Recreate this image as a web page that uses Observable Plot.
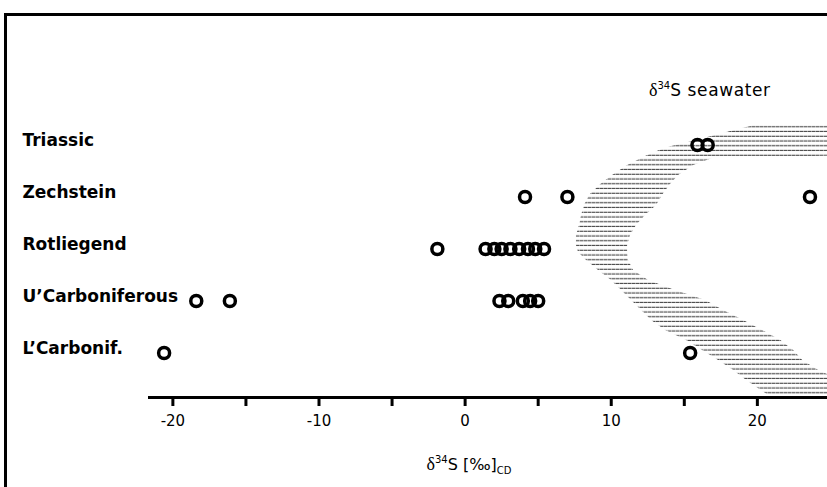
<!DOCTYPE html>
<html>
<head>
<meta charset="utf-8">
<script src="https://cdn.jsdelivr.net/npm/d3@7"></script>
<script src="https://cdn.jsdelivr.net/npm/@observablehq/plot@0.6"></script>
<style>
  html, body { margin: 0; padding: 0; background: #fff; }
  #wrap { position: relative; width: 827px; height: 487px; overflow: hidden; }
  #wrap svg { position: absolute; left: 0; top: 0; }
  #border { position: absolute; left: 4px; top: 13px; right: -5px; bottom: -5px;
            border-top: 3px solid #000; border-left: 3px solid #000; }
</style>
</head>
<body>
<div id="wrap"><div id="border"></div></div>
<script>
// Stratigraphic units, bottom (oldest) to top (youngest)
const periods = ["L’Carbonif.", "U’Carboniferous", "Rotliegend", "Zechstein", "Triassic"];

// δ34S of sulfate samples (‰ CDT) per unit
const lCarbonif = [-20.6, 15.4];
const uCarboniferous = [-18.4, -16.1, 2.35, 2.95, 3.95, 4.45, 5.0];
const rotliegend = [-1.9, 1.4, 2.0, 2.5, 3.1, 3.7, 4.3, 4.8, 5.4];
const zechstein = [4.1, 7.0, 23.6];
const triassic = [15.9, 16.6];

// Seawater δ34S envelope: position on the unit axis and its lower/upper bound (‰)
const bandLevel = [4.365, 4.26, 4.163, 4.067, 3.971, 3.894, 3.788, 3.74, 3.606, 3.413, 3.221, 3.029,
                   2.837, 2.644, 2.452, 2.26, 2.067, 1.933, 1.779, 1.587, 1.394, 1.202, 1.01, 0.817,
                   0.625, 0.433, 0.24, 0.048, -0.144, -0.337, -0.529, -0.817];
const bandLow   = [19.68, 18.17, 16.87, 15.57, 14.13, 13.31, 12.42, 12.08, 11.12, 10.09, 9.2, 8.51,
                   8.17, 7.97, 7.83, 7.62, 7.62, 7.76, 8.31, 9.13, 10.02, 10.71, 11.39, 12.08,
                   12.76, 13.72, 15.16, 16.25, 17.35, 18.38, 19.27, 20.77];
const bandHigh  = [25.7, 25.7, 25.7, 25.7, 25.7, 25.7, 25.7, 16.94, 15.64, 14.61, 13.99, 13.51,
                   13.1, 12.35, 11.73, 11.32, 11.12, 11.12, 11.18, 11.53, 12.55, 14.4, 16.46, 17.69,
                   19.06, 20.36, 21.6, 22.49, 23.1, 24.2, 25.7, 25.7];

const xTicks = [-20, -15, -10, -5, 0, 5, 10, 15, 20];

const samples = [lCarbonif, uCarboniferous, rotliegend, zechstein, triassic]
  .flatMap((vals, i) => vals.map(v => ({unit: i, d34S: v})));
const band = bandLevel.map((lvl, i) => ({lvl, lo: bandLow[i], hi: bandHigh[i]}));
const rows = periods.map((name, i) => ({unit: i, name}));

const chart = Plot.plot({
  width: 827,
  height: 487,
  marginLeft: 149,
  marginRight: 0,
  marginTop: 20,
  marginBottom: 90,
  style: {fontFamily: "DejaVu Sans", fontSize: "15px", color: "#000", background: "transparent"},
  x: {domain: [-21.6, 24.8]},
  y: {domain: [0, 4], range: [352.5, 144.5], axis: null},
  marks: [
    Plot.areaX(band, {y: "lvl", x1: "lo", x2: "hi", fill: "url(#seawater-hatch)", clip: true}),
    Plot.frame({anchor: "bottom", strokeWidth: 3, stroke: "#000"}),
    Plot.axisX({
      ticks: xTicks,
      tickFormat: d => (d % 10 === 0 ? String(d) : ""),
      tickSize: 9,
      tickPadding: 9,
      strokeWidth: 3,
      label: null
    }),
    Plot.text(rows, {
      y: "unit", text: "name", frameAnchor: "left", textAnchor: "start",
      dx: -127, dy: -4, fontSize: 17, fontWeight: "bold", fontFamily: "DejaVu Sans"
    }),
    Plot.dot(samples, {x: "d34S", y: "unit", r: 5.5, stroke: "#000", strokeWidth: 3.5, fill: "none"})
  ]
});

// Horizontal-line hatching for the seawater envelope
const svg = d3.select(chart);
const pat = svg.insert("defs", ":first-child")
  .append("pattern")
  .attr("id", "seawater-hatch")
  .attr("patternUnits", "userSpaceOnUse")
  .attr("width", 4)
  .attr("height", 4.75);
pat.append("rect").attr("x", 0).attr("y", 2.7).attr("width", 3.6).attr("height", 1).attr("fill", "#2e2e2e");

// Envelope label
const title = svg.append("text")
  .attr("x", 649).attr("y", 96).attr("text-anchor", "start")
  .attr("font-family", "DejaVu Sans").attr("font-size", 17).attr("fill", "#000");
title.append("tspan").attr("font-family", "Liberation Serif").attr("font-size", 18).text("δ");
title.append("tspan").attr("font-size", 10).attr("dy", -7).text("34");
title.append("tspan").attr("dy", 7).attr("letter-spacing", 0.6).text("S seawater");

// x-axis title
const xl = svg.append("text")
  .attr("x", 469).attr("y", 470).attr("text-anchor", "middle")
  .attr("font-family", "DejaVu Sans").attr("font-size", 16).attr("fill", "#000");
xl.append("tspan").attr("font-family", "Liberation Serif").attr("font-size", 18).text("δ");
xl.append("tspan").attr("font-size", 10).attr("dy", -7).text("34");
xl.append("tspan").attr("dy", 7).text("S [‰]");
xl.append("tspan").attr("font-size", 10).attr("dy", 4).text("CD");

document.getElementById("wrap").appendChild(chart);
</script>
</body>
</html>
